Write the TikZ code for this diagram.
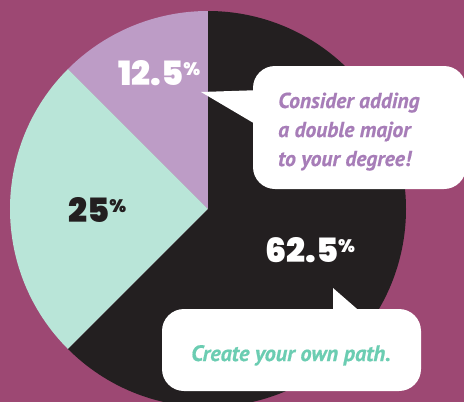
\documentclass[tikz,border=0pt]{standalone}
\usepackage{fontspec}
\newfontfamily\heavy{Poppins Black}
\newfontfamily\bubblefont{PT Sans}[BoldItalicFeatures={FakeBold=0.6}]
\definecolor{bgc}{HTML}{9D4873}
\definecolor{lav}{HTML}{BD9CC6}
\definecolor{mint}{HTML}{B9E5D8}
\definecolor{pieblack}{HTML}{231F20}
\definecolor{purtext}{HTML}{A77DB8}
\definecolor{tealtext}{HTML}{6BCDB2}
\newcommand\bigpct[1]{{\heavy\fontsize{33.5}{33.5}\selectfont #1\raisebox{10pt}{\fontsize{18}{18}\selectfont\%}}}
\tikzset{
  pctlabel/.style={inner sep=0pt, anchor=base west},
  bubbletext/.style={inner sep=0pt, anchor=base west, font=\bubblefont\bfseries\itshape\fontsize{21.6}{21.6}\selectfont, text=purtext},
  bubble/.style={fill=white, rounded corners=22pt},
}
\begin{document}
\begin{tikzpicture}[x=1pt,y=1pt]
\useasboundingbox (0,0) rectangle (464,-402);
\clip (0,0) rectangle (464,-402);
\fill[bgc] (0,0) rectangle (464,-402);
\coordinate (c) at (208,-209);
% pie
\fill[lav] (c) -- ++(90:198pt) arc[start angle=90,end angle=135,radius=198pt] -- cycle;
\fill[mint] (c) -- ++(135:198pt) arc[start angle=135,end angle=225,radius=198pt] -- cycle;
\fill[pieblack] (c) -- ++(225:198pt) arc[start angle=225,end angle=450,radius=198pt] -- cycle;
% bubble 1
\coordinate (t1) at (201,-92);
\fill[white] (t1) -- (262,-90) -- (262,-128) -- cycle;
\fill[bubble] (253,-66) rectangle (466,-189);
% bubble 2
\coordinate (t2) at (333,-288);
\fill[white] (t2) -- (333,-315) -- (364,-315) -- cycle;
\fill[bubble] (162,-309) rectangle (421,-391);
% labels
\node[pctlabel, text=white] (p1) at (118,-85) {\bigpct{12.5}};
\node[pctlabel, text=pieblack] (p2) at (68,-222) {\bigpct{25}};
\node[pctlabel, text=white] (p3) at (265,-262) {\bigpct{62.5}};
\node[bubbletext] (b1) at (278,-108) {Consider adding};
\node[bubbletext] (b2) at (278,-137) {a double major};
\node[bubbletext] (b3) at (278,-166) {to your degree!};
\node[bubbletext, text=tealtext, font=\bubblefont\bfseries\itshape\fontsize{22.3}{22.3}\selectfont] (b4) at (191,-361) {Create your own path.};
\end{tikzpicture}
\end{document}
